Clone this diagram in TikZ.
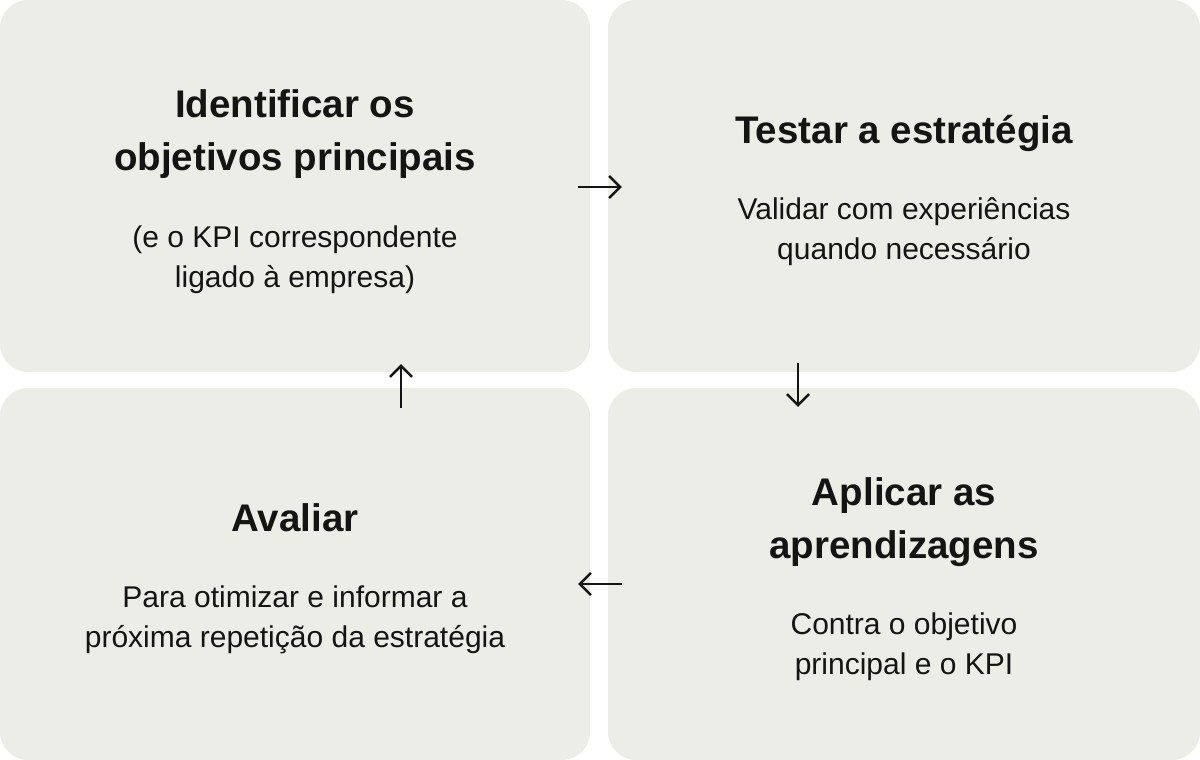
\documentclass[tikz,border=0pt]{standalone}
\usepackage{fontspec}
\setmainfont{Liberation Sans}
\usepackage{xcolor}
\usepackage{tikz}
\usetikzlibrary{arrows.meta,positioning}
\definecolor{panelgray}{HTML}{EDEDE8}
\definecolor{inkblack}{HTML}{141414}
\tikzset{
	panel/.style = {
			rectangle,
			rounded corners = 28pt,
			fill            = panelgray,
			draw            = none,
			inner sep       = 0pt,
			minimum height  = 372pt,
		},
	heading/.style = {
			anchor     = base,
			align      = center,
			text       = inkblack,
			inner sep  = 0pt,
			font       = \fontsize{38.5}{53}\selectfont\bfseries,
		},
	blurb/.style = {
			anchor     = base,
			align      = center,
			text       = inkblack,
			inner sep  = 0pt,
			font       = \fontsize{30}{40}\selectfont,
		},
	flow/.style = {
			draw       = inkblack,
			line width = 2.5pt,
			-{Straight Barb[length=11pt, width=22pt]},
		}
}

\begin{document}
\begin{tikzpicture}[x=1pt, y=-1pt]
	\useasboundingbox (0,0) rectangle (1200,760);
	% the four panels
	\node[panel, minimum width=590pt] (idbox)    at (295,186) {};
	\node[panel, minimum width=592pt] (testbox)  at (904,186) {};
	\node[panel, minimum width=592pt] (applybox) at (904,574) {};
	\node[panel, minimum width=590pt] (evalbox)  at (295,574) {};
	% texts
	\node[heading] (idtitle) at ([yshift=16pt]idbox.center)
	{Identificar os\\objetivos principais};
	\node[blurb] (idtext) at ([yshift=-117pt]idtitle.base)
	{(e o KPI correspondente\\ligado à empresa)};
	\node[heading] (testtitle) at ([yshift=43pt]testbox.center)
	{Testar a estratégia};
	\node[blurb] (testtext) at ([yshift=-116pt]testtitle.base)
	{Validar com experiências\\quando necessário};
	\node[heading] (applytitle) at ([yshift=16pt]applybox.center)
	{Aplicar as\\aprendizagens};
	\node[blurb] (applytext) at ([yshift=-116pt]applytitle.base)
	{Contra o objetivo\\principal e o KPI};
	\node[heading] (evaltitle) at ([yshift=43pt]evalbox.center)
	{Avaliar};
	\node[blurb] (evaltext) at ([yshift=-116pt]evaltitle.base)
	{Para otimizar e informar a\\próxima repetição da estratégia};
	% arrows between the panels
	\draw[flow] ([xshift=-12pt,yshift=-1pt]idbox.east)
	-- ([xshift=14pt,yshift=-1pt]testbox.west);
	\draw[flow] ([xshift=-106pt,yshift=9pt]testbox.south)
	-- ([xshift=-106pt,yshift=-19pt]applybox.north);
	\draw[flow] ([xshift=14pt,yshift=-10pt]applybox.west)
	-- ([xshift=-12pt,yshift=-10pt]evalbox.east);
	\draw[flow] ([xshift=106pt,yshift=-20pt]evalbox.north)
	-- ([xshift=106pt,yshift=8pt]idbox.south);
\end{tikzpicture}
\end{document}
